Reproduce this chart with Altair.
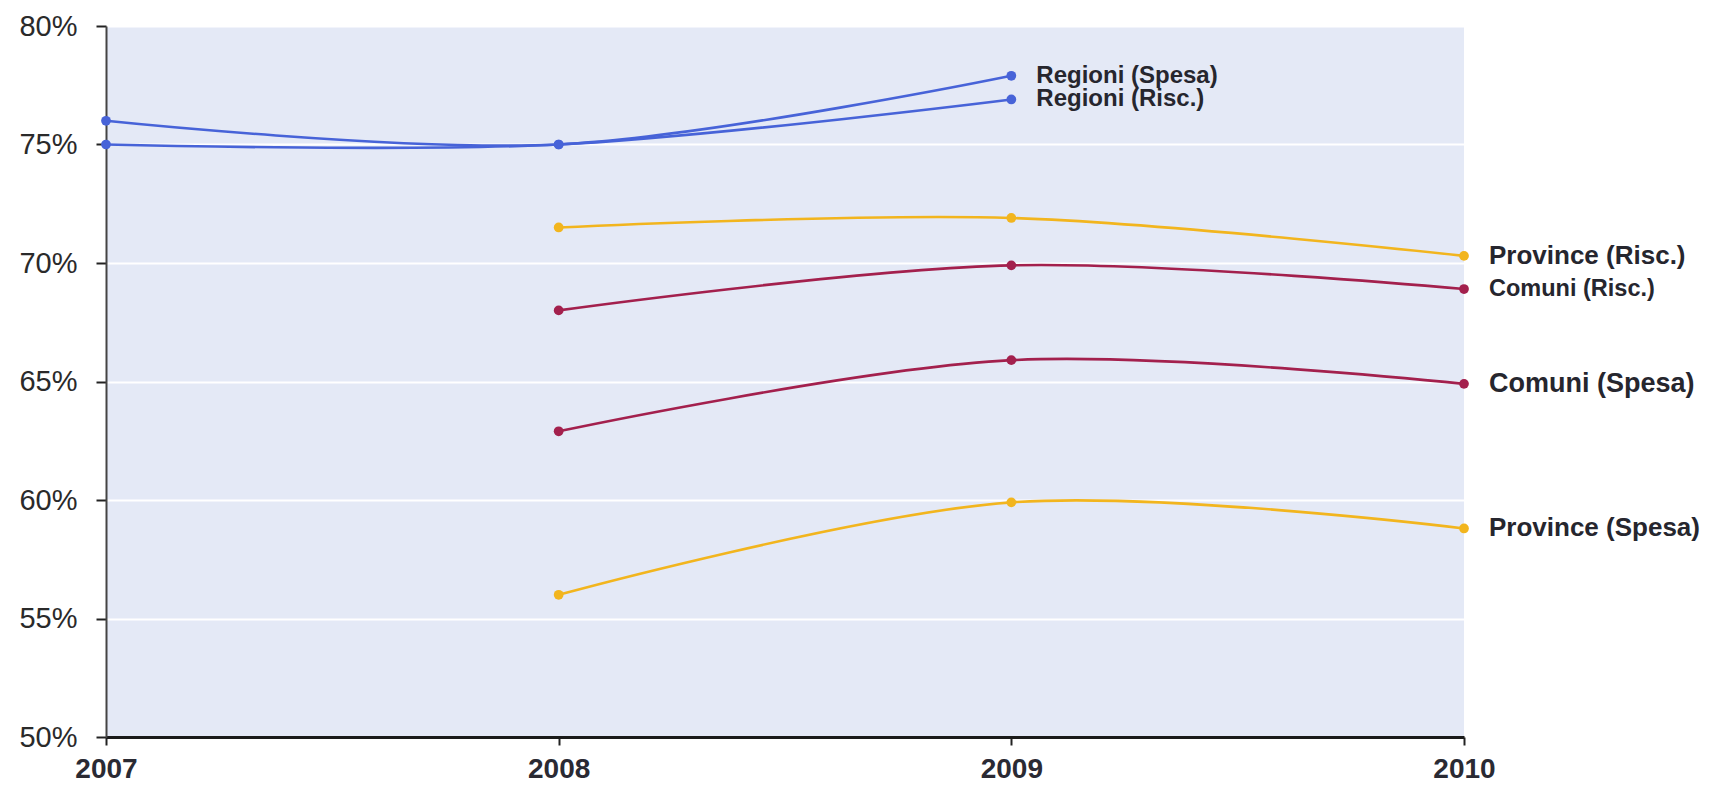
import altair as alt
import pandas as pd

years_regioni = [2007, 2008, 2009]
years_other = [2008, 2009, 2010]
regioni_spesa = [76.0, 75.0, 77.9]
regioni_risc = [75.0, 75.0, 76.9]
province_risc = [71.5, 71.9, 70.3]
comuni_risc = [68.0, 69.9, 68.9]
comuni_spesa = [62.9, 65.9, 64.9]
province_spesa = [56.0, 59.9, 58.8]

series_names = ["Regioni (Spesa)", "Regioni (Risc.)", "Province (Risc.)",
                "Comuni (Risc.)", "Comuni (Spesa)", "Province (Spesa)"]
series_years = [years_regioni, years_regioni, years_other, years_other, years_other, years_other]
series_vals = [regioni_spesa, regioni_risc, province_risc, comuni_risc, comuni_spesa, province_spesa]
series_colors = ["#4763d8", "#4763d8", "#f2b51e", "#a3204d", "#a3204d", "#f2b51e"]
point_colors = ["#4a66dc", "#4a66dc", "#f7c23a", "#b44b6e", "#b44b6e", "#f7c23a"]

rows = []
for name, yrs, vals in zip(series_names, series_years, series_vals):
    for i, (yr, v) in enumerate(zip(yrs, vals)):
        rows.append({"serie": name, "anno": yr, "valore": v, "last": i == len(yrs) - 1})
df = pd.DataFrame(rows)

x = alt.X("anno:Q", scale=alt.Scale(domain=[2007, 2010], nice=False),
          axis=alt.Axis(values=[2007, 2008, 2009, 2010], format="d", title=None,
                        grid=False, labelFontSize=28, labelFontWeight="bold",
                        labelColor="#2a2a33", labelPadding=10, tickSize=8, tickWidth=2,
                        tickColor="#222", domainColor="#1a1a1a", domainWidth=3,
                        labelFlush=False, labelFont="Liberation Sans"))
y = alt.Y("valore:Q", scale=alt.Scale(domain=[50, 80], nice=False),
          axis=alt.Axis(values=[50, 55, 60, 65, 70, 75, 80], labelExpr="datum.value + '%'",
                        title=None, gridColor="#ffffff", gridWidth=2, labelFontSize=29,
                        labelColor="#2a2a2a", labelPadding=19, tickSize=10, tickWidth=2,
                        tickColor="#222", domainColor="#444", domainWidth=2,
                        labelFont="Liberation Sans"))
color = alt.Color("serie:N", scale=alt.Scale(domain=series_names, range=series_colors), legend=None)
pcolor = alt.Color("serie:N", scale=alt.Scale(domain=series_names, range=point_colors), legend=None)

base = alt.Chart(df)
lines = base.mark_line(interpolate="catmull-rom", strokeWidth=2.6).encode(
    x=x, y=y, color=color, detail="serie:N")
points = base.mark_circle(size=95, opacity=1).encode(x=x, y=y, color=pcolor)
labels = base.transform_filter("datum.last").mark_text(
    align="left", baseline="middle", dx=25, fontWeight="bold",
    font="Liberation Sans", color="#26262e").encode(
    x=x, y=y, text="serie:N",
    size=alt.SizeValue(26, condition=[
        {"test": "datum.serie == 'Comuni (Risc.)'", "value": 23.5},
        {"test": "datum.serie == 'Comuni (Spesa)'", "value": 27},
        {"test": "indexof(datum.serie, 'Regioni') == 0", "value": 24},
    ]))

chart = alt.layer(lines, points, labels).properties(
    width=1358, height=711,
    autosize=alt.AutoSizeParams(type="none"),
    padding={"left": 98, "top": 18, "right": 238, "bottom": 54},
).configure_view(fill="#e4e9f6", stroke=None)

chart.save("out.html", embed_options={"renderer": "svg", "actions": False})
